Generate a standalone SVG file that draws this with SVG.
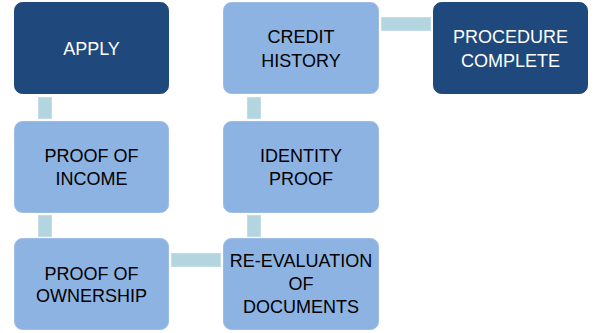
<svg xmlns="http://www.w3.org/2000/svg" width="602" height="333" viewBox="0 0 602 333">
<style>
.dark{fill:#1f497d;stroke:#1f497d;stroke-width:1}
.light{fill:#8db3e2;stroke:#9dbde6;stroke-width:1}
.conn{fill:#b3d5df;stroke:#c2dde6;stroke-width:1}
text{font-family:"Liberation Sans",Arial,sans-serif;font-size:18px;text-anchor:middle}
.w{fill:#ffffff}
.b{fill:#000000}
</style>
<rect width="602" height="333" fill="#ffffff"/>
<g id="connectors">
<rect class="conn" x="38.5" y="97.5" width="13" height="21"/>
<rect class="conn" x="38.5" y="215.5" width="13" height="21"/>
<rect class="conn" x="171.5" y="253.5" width="49" height="13"/>
<rect class="conn" x="247.5" y="215.5" width="13" height="21"/>
<rect class="conn" x="247.5" y="97.5" width="13" height="21"/>
<rect class="conn" x="381.5" y="17.5" width="49" height="13"/>
</g>
<g id="apply">
<rect class="dark" x="14.5" y="2.5" width="154" height="91" rx="8"/>
<text class="w" x="91.5" y="55">APPLY</text>
</g>
<g id="income">
<rect class="light" x="14.5" y="121.5" width="154" height="91" rx="8"/>
<text class="b" x="91.5" y="162">PROOF OF</text>
<text class="b" x="91.5" y="185">INCOME</text>
</g>
<g id="ownership">
<rect class="light" x="14.5" y="238.5" width="154" height="91" rx="8"/>
<text class="b" x="91.5" y="280">PROOF OF</text>
<text class="b" x="91.5" y="302">OWNERSHIP</text>
</g>
<g id="reevaluation">
<rect class="light" x="223.5" y="238.5" width="155" height="91" rx="8"/>
<text class="b" x="301" y="267">RE-EVALUATION</text>
<text class="b" x="301" y="290">OF</text>
<text class="b" x="301" y="313">DOCUMENTS</text>
</g>
<g id="identity">
<rect class="light" x="223.5" y="121.5" width="155" height="91" rx="8"/>
<text class="b" x="301" y="162">IDENTITY</text>
<text class="b" x="301" y="185">PROOF</text>
</g>
<g id="credit">
<rect class="light" x="223.5" y="2.5" width="155" height="91" rx="8"/>
<text class="b" x="301" y="43">CREDIT</text>
<text class="b" x="301" y="67">HISTORY</text>
</g>
<g id="complete">
<rect class="dark" x="433.5" y="2.5" width="154" height="91" rx="8"/>
<text class="w" x="510.5" y="43">PROCEDURE</text>
<text class="w" x="510.5" y="67">COMPLETE</text>
</g>
</svg>
